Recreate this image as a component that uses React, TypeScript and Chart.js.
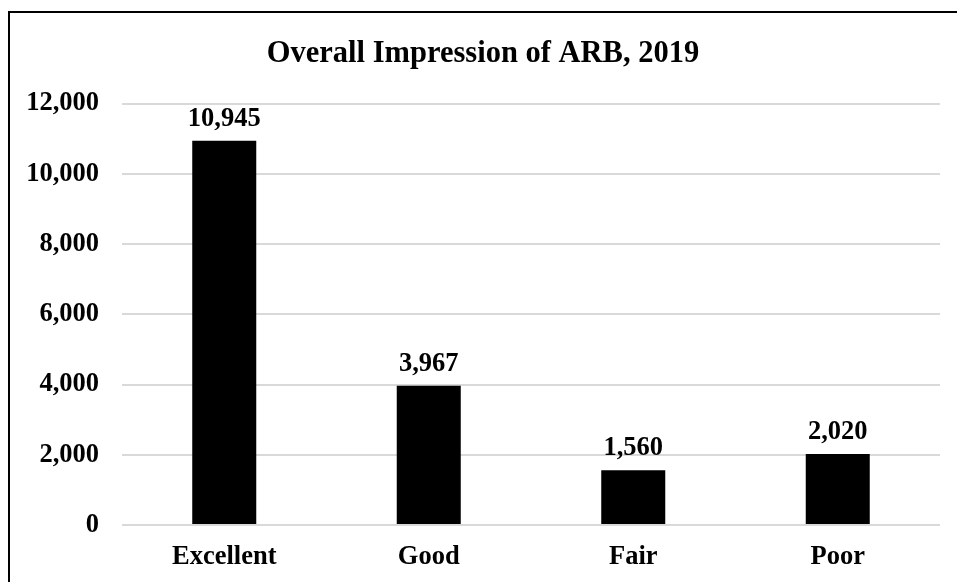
import React, { useEffect, useRef } from "react";
import { Chart, registerables } from "chart.js";

Chart.register(...registerables);

const categories = ["Excellent", "Good", "Fair", "Poor"];
const values = [10945, 3967, 1560, 2020];
const yTicks = [0, 2000, 4000, 6000, 8000, 10000, 12000];
const titleText = "Overall Impression of ARB, 2019";

const FONT = '"Liberation Serif", "Times New Roman", serif';

const fmt = (v: number) => v.toLocaleString("en-US");

const labelPlugin = {
  id: "barLabels",
  afterDatasetsDraw(chart: any) {
    const ctx = chart.ctx;
    const meta = chart.getDatasetMeta(0);
    ctx.save();
    ctx.font = `bold 26.5px ${FONT}`;
    ctx.fillStyle = "#000";
    ctx.textAlign = "center";
    ctx.textBaseline = "alphabetic";
    meta.data.forEach((bar: any, i: number) => {
      ctx.fillText(fmt(values[i]), bar.x, bar.y - 15);
    });
    ctx.restore();
  },
};

export default function App() {
  const ref = useRef<HTMLCanvasElement | null>(null);
  useEffect(() => {
    document.documentElement.style.overflow = "hidden";
    if (!ref.current) return;
    const chart = new Chart(ref.current, {
      type: "bar",
      data: {
        labels: categories,
        datasets: [
          {
            data: values,
            backgroundColor: "#000",
            borderWidth: 0,
            categoryPercentage: 1,
            barPercentage: 0.313,
          },
        ],
      },
      options: {
        animation: false,
        responsive: true,
        maintainAspectRatio: false,
        layout: { padding: { left: 16, right: 17, top: 0, bottom: 0 } },
        plugins: {
          legend: { display: false },
          tooltip: { enabled: false },
          title: {
            display: true,
            text: titleText,
            color: "#000",
            font: { family: FONT, size: 30.5, weight: "bold", lineHeight: 1.2 },
            padding: { top: 23, bottom: 31 },
          },
        },
        scales: {
          x: {
            grid: { display: false, drawTicks: false },
            border: { display: false },
            afterFit: (axis: any) => {
              axis.height = 57;
            },
            ticks: {
              color: "#000",
              padding: 16,
              maxRotation: 0,
              font: { family: FONT, size: 26.5, weight: "bold", lineHeight: 1.2 },
            },
          },
          y: {
            min: yTicks[0],
            max: yTicks[yTicks.length - 1],
            afterBuildTicks: (axis: any) => {
              axis.ticks = yTicks.map((v) => ({ value: v }));
            },
            afterFit: (axis: any) => {
              axis.width = 96;
            },
            grid: { color: "#d9d9d9", lineWidth: 2, drawTicks: false },
            border: { display: false },
            ticks: {
              color: "#000",
              padding: 23,
              font: { family: FONT, size: 26.5, weight: "bold", lineHeight: 1.2 },
              callback: (v: any) => fmt(Number(v)),
            },
          },
        },
      },
      plugins: [labelPlugin],
    });
    return () => chart.destroy();
  }, []);

  return (
    <div
      style={{
        position: "absolute",
        left: 8,
        top: 11,
        width: 949,
        height: 571,
        borderLeft: "2px solid #000",
        borderTop: "2px solid #000",
        boxSizing: "border-box",
        background: "#fff",
      }}
    >
      <div style={{ position: "relative", width: 947, height: 569 }}>
        <canvas ref={ref} />
      </div>
    </div>
  );
}
